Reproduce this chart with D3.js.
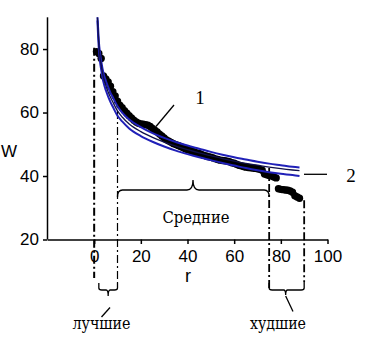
<!DOCTYPE html>
<html><head><meta charset="utf-8">
<script src="https://cdn.jsdelivr.net/npm/d3@7"></script>
<style>body{margin:0;background:#fff}svg{display:block}</style>
</head><body>
<script>
// ranks and observed W values (black dots)
const ranks = [1,2,3,4,5,6,7,8,9,10,11,12,13,14,15,16,17,18,19,20,21,22,23,24,25,26,27,28,29,30,
  31,32,33,34,35,36,37,38,39,40,41,42,43,44,45,46,47,48,49,50,51,52,53,54,55,56,57,58,59,60,
  61,62,63,64,65,66,67,68,69,70,71,72,73,74,75,76,77,78,79,80,81,82,83,84,85,86,87,88];
const wObserved = [79.2,78.6,77.0,71.5,70.6,69.6,68.3,66.6,65.2,63.6,62.3,61.5,60.6,59.8,59.0,58.3,57.6,57.0,56.6,56.4,
  56.3,56.2,56.0,55.6,55.0,54.4,53.9,53.2,52.6,52.0,51.4,51.0,50.6,50.2,49.9,49.6,49.3,49.0,48.6,48.3,
  48.1,47.8,47.6,47.3,47.1,46.8,46.5,46.3,46.1,45.9,45.7,45.4,45.2,45.0,44.9,44.8,44.7,44.5,44.2,44.0,
  43.7,43.4,43.2,43.0,42.8,42.7,42.6,42.5,42.4,42.3,42.1,41.8,40.6,40.4,40.2,40.0,39.7,39.4,36.0,35.8,
  35.7,35.6,35.5,35.3,34.9,33.8,33.4,33.0];
// fitted curve (black) and its two blue bounds
const rFit   = [1.4,1.7,2,2.5,3,4,5,6,7,8,10,12,15,20,25,30,35,40,45,50,55,60,65,70,75,80,85,88];
const wFit   = [90,85.5,81.5,77.5,75,71,68.5,66.5,64.8,63.3,60.5,58.6,56.4,54,52.2,50.7,49.4,48.3,47.3,46.4,45.5,44.7,44.0,43.4,42.8,42.3,41.9,41.7];
const wUpper = [90.3,86.5,82.5,78.8,76.3,72.4,70,68,66.2,64.8,62,60,57.8,55.4,53.5,52,50.7,49.6,48.6,47.6,46.7,45.9,45.2,44.5,43.9,43.4,42.9,42.7];
const wLower = [89,84,80,76,73.5,69.5,67,65,63.3,61.8,59,57.2,55,52.6,50.8,49.3,48,46.9,45.9,45,44.1,43.3,42.5,41.8,41.2,40.7,40.3,40.0];
// ticks
const xMajor = [0,20,40,60,80,100];
const xMinor = [-15,-10,-5,5,10,15,25,30,35,45,50,55,65,70,75,85,90,95];
const yMajor = [20,40,60,80];
const yMinor = [24,28,32,36,44,48,52,56,64,68,72,76,84,88];
// group boundaries (ranks)
const bounds = [0,10,75,90];
const labels = ["1","2","Средние","лучшие","худшие"];

const W = 365, H = 344;
const svg = d3.select("body").append("svg").attr("width",W).attr("height",H)
  .style("background","#fff");
const x = d3.scaleLinear().domain([-20,100]).range([47.5,327.5]);
const y = d3.scaleLinear().domain([20,90]).range([239.5,17.3]);

const sans = "'Liberation Sans', Arial, sans-serif";
const serif = "'Liberation Serif', 'Times New Roman', serif";
const serifCyr = "'DejaVu Serif Condensed', 'DejaVu Serif', 'Liberation Serif', serif";

// axes
const gx = svg.append("g").attr("transform",`translate(0,${y(20)})`);
gx.call(d3.axisBottom(x).tickValues(xMinor).tickSize(3).tickSizeOuter(0).tickFormat(""));
gx.call(d3.axisBottom(x).tickValues(xMajor).tickSize(4.5).tickSizeOuter(0).tickPadding(6));
gx.selectAll("text").attr("font-family",sans).attr("font-size",17).attr("fill","#000");
gx.selectAll("path,line").attr("stroke","#000").attr("stroke-width",1.5);

const gy = svg.append("g").attr("transform",`translate(${x(-20)},0)`);
gy.call(d3.axisLeft(y).tickValues(yMinor).tickSize(3).tickSizeOuter(0).tickFormat(""));
gy.call(d3.axisLeft(y).tickValues(yMajor).tickSize(4.5).tickSizeOuter(0).tickPadding(4));
gy.selectAll("text").attr("font-family",sans).attr("font-size",17).attr("fill","#000");
gy.selectAll("path,line").attr("stroke","#000").attr("stroke-width",1.5);
gy.select(".domain").attr("d",`M0,${y(20)}V${y(90)}`);

svg.append("text").attr("x",9).attr("y",156.5).attr("text-anchor","middle")
  .attr("font-family",sans).attr("font-size",17).text("W");
svg.append("text").attr("x",188).attr("y",281.5).attr("text-anchor","middle")
  .attr("font-family",sans).attr("font-size",18).text("r");

// dash-dot boundary lines
const vTop = [80.4, 60.5, 42.5, 32.4];
const vBot = [278, 283, 289, 282];
const vW = [2, 1.2, 1.8, 1.8];
bounds.forEach((b,i)=>{
  svg.append("line").attr("x1",x(b)).attr("x2",x(b))
    .attr("y1",y(vTop[i])).attr("y2",vBot[i])
    .attr("stroke","#000").attr("stroke-width",vW[i])
    .attr("stroke-dasharray","8,3,2,3");
});

// dots
svg.append("g").selectAll("circle").data(ranks).join("circle")
  .attr("cx",(d)=>x(d)).attr("cy",(d,i)=>y(wObserved[i])).attr("r",3.7).attr("fill","#000");

// curves
svg.append("clipPath").attr("id","pc").append("rect")
  .attr("x",x(-20)).attr("y",y(90)).attr("width",x(100)-x(-20)).attr("height",y(20)-y(90));
const line = d3.line().x(d=>x(d[0])).y(d=>y(d[1])).curve(d3.curveMonotoneX);
const curves = [
  {w:wUpper, c:"#2020b8", sw:2},
  {w:wLower, c:"#2020b8", sw:2},
  {w:wFit,   c:"#10104a", sw:1.3}
];
curves.forEach(cv=>{
  svg.append("path").attr("clip-path","url(#pc)")
    .attr("d",line(rFit.map((r,i)=>[r,cv.w[i]])))
    .attr("fill","none").attr("stroke",cv.c).attr("stroke-width",cv.sw);
});

// braces
const ann = svg.append("g").attr("fill","none").attr("stroke","#000").attr("stroke-width",1.3);
const x10 = x(bounds[1]), x75 = x(bounds[2]), x90 = x(bounds[3]);
const xm = 193;
ann.append("path").attr("d",
  `M${x10},197 Q${x10},190 ${x10+5},190 L${xm-6},190 Q${xm},190 ${xm},180 Q${xm},190 ${xm+6},190 L${x75-5},190 Q${x75},190 ${x75},197`);
const xb0 = x(2), xbm = (x(2)+x10)/2;
ann.append("path").attr("d",
  `M${xb0},283 L${xb0},288 Q${xb0},290 ${xb0+3},290 L${xbm-2},290 Q${xbm},290 ${xbm},296 Q${xbm},290 ${xbm+2},290 L${x10-3},290 Q${x10},290 ${x10},288 L${x10},283`);
const xwm = (x75+x90)/2 - 1;
ann.append("path").attr("d",
  `M${x75},283 L${x75},288 Q${x75},290 ${x75+3},290 L${xwm-2},290 Q${xwm},290 ${xwm},295 Q${xwm},290 ${xwm+2},290 L${x90-3},290 Q${x90},290 ${x90},288 L${x90},282`);
ann.append("line").attr("x1",110).attr("y1",307.5).attr("x2",101.5).attr("y2",317);
ann.append("line").attr("x1",xwm).attr("y1",296).attr("x2",293).attr("y2",311.5);
ann.append("line").attr("x1",174).attr("y1",105).attr("x2",156).attr("y2",126.5);
ann.append("line").attr("x1",304).attr("y1",174.3).attr("x2",327).attr("y2",174.3);

const txt = [
  {t:labels[0], x:200, y:103.5, s:19, w:0, f:serif},
  {t:labels[1], x:351, y:181.7, s:19, w:0, f:serif},
  {t:labels[2], x:196, y:222.5, s:17, w:67, f:serifCyr},
  {t:labels[3], x:101.5, y:329, s:17, w:58, f:serifCyr},
  {t:labels[4], x:278, y:329, s:17, w:56, f:serifCyr}
];
svg.append("g").selectAll("text").data(txt).join("text")
  .attr("x",d=>d.x).attr("y",d=>d.y).attr("text-anchor","middle")
  .attr("font-family",d=>d.f).attr("font-size",d=>d.s).attr("fill","#000").text(d=>d.t)
  .each(function(d){
    if(!d.w) return;
    d3.select(this).attr("textLength",d.w).attr("lengthAdjust","spacingAndGlyphs");
  });
</script>
</body></html>
